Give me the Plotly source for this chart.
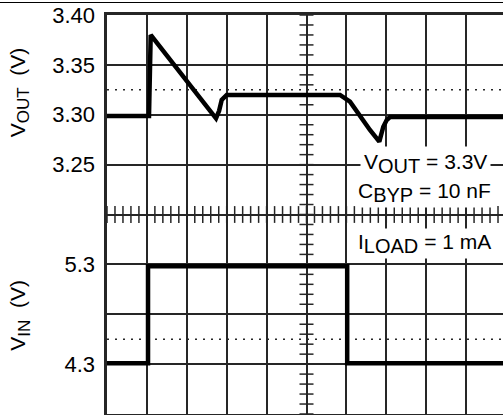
import plotly.graph_objects as go
import numpy as np

# ---------------- data ----------------
# time axis in scope divisions
t_vout = [0, 1.053, 1.095, 2.732, 2.81, 2.875, 3.0, 5.84, 6.09, 6.34, 6.59, 6.825, 6.925, 7.01, 7.093, 9.925]
v_out = [3.2987, 3.2987, 3.380, 3.2964, 3.304, 3.3148, 3.3198, 3.3198, 3.3131, 3.2980, 3.2847, 3.2730, 3.2880, 3.2947, 3.2977, 3.2977]

t_vin = [0, 1.028, 1.028, 6.02, 6.02, 9.925]
v_in = [4.31, 4.31, 5.28, 5.28, 4.31, 4.31]

vout_ticks = [3.25, 3.30, 3.35, 3.40]
vout_ticktext = ["3.25", "3.30", "3.35", "3.40"]
vin_ticks = [4.3, 5.3]
vin_ticktext = ["4.3", "5.3"]

dotted_levels = [1.5, 6.5]  # graticule divisions

FONT = "Liberation Sans, Arial, sans-serif"
GRID = "#262626"


def sub(s, size):
    return f"<sub><span style='font-size:{size}px'>{s}</span></sub>"


fig = go.Figure()

# centre graticule ticks
hx = np.arange(0, 9.95, 0.2)
vy = np.arange(0, 8.01, 0.2)
fig.add_trace(go.Scatter(x=hx, y=[4] * len(hx), mode="markers", xaxis="x", yaxis="y",
                         marker=dict(symbol="line-ns", size=12, line=dict(width=1.5, color=GRID)),
                         hoverinfo="skip"))
fig.add_trace(go.Scatter(x=[5] * len(vy), y=vy, mode="markers", xaxis="x", yaxis="y",
                         marker=dict(symbol="line-ew", size=10, line=dict(width=1.5, color=GRID)),
                         hoverinfo="skip"))

fig.add_trace(go.Scatter(x=t_vout, y=v_out, mode="lines", xaxis="x", yaxis="y2",
                         line=dict(color="black", width=4.5)))
fig.add_trace(go.Scatter(x=t_vin, y=v_in, mode="lines", xaxis="x", yaxis="y3",
                         line=dict(color="black", width=4.5)))

shapes = []
for lv in dotted_levels:
    shapes.append(dict(type="line", xref="x", yref="y", x0=0, x1=9.925, y0=lv, y1=lv,
                       line=dict(color=GRID, width=1.5, dash="2px,6px"), layer="between"))
# top border rule of the page (drawn in pixel units from the top of the plot area)
shapes.append(dict(type="line", xref="paper", yref="paper", ysizemode="pixel", yanchor=1,
                   x0=-0.28, x1=1.02, y0=12.5, y1=12.5,
                   line=dict(color="black", width=1.2), layer="above"))

annotations = [
    dict(text="V" + sub("OUT", 17) + "  (V)", xref="paper", yref="y", x=-0.221, y=6.46,
         xanchor="center", yanchor="middle",
         textangle=-90, showarrow=False, font=dict(family=FONT, size=21, color="black")),
    dict(text="V" + sub("IN", 17) + "  (V)", xref="paper", yref="y", x=-0.221, y=1.98,
         xanchor="center", yanchor="middle",
         textangle=-90, showarrow=False, font=dict(family=FONT, size=21, color="black")),
    dict(text="V" + sub("OUT", 20) + " = 3.3V", xref="x", yref="y", x=7.97, y=5.02, showarrow=False,
         xanchor="center", yanchor="middle",
         bgcolor="white", borderpad=3, font=dict(family=FONT, size=21, color="black")),
    dict(text="C" + sub("BYP", 20) + " = 10 nF", xref="x", yref="y", x=7.96, y=4.44, showarrow=False,
         xanchor="center", yanchor="middle",
         bgcolor="white", borderpad=1, font=dict(family=FONT, size=21, color="black")),
    dict(text="I" + sub("LOAD", 20) + " = 1 mA", xref="x", yref="y", x=7.95, y=3.41, showarrow=False,
         xanchor="center", yanchor="middle",
         bgcolor="white", borderpad=1, font=dict(family=FONT, size=21, color="black")),
]

fig.update_layout(
    width=503, height=415,
    margin=dict(l=107, r=0, t=15, b=1, pad=0, autoexpand=False),
    paper_bgcolor="white", plot_bgcolor="white",
    showlegend=False,
    xaxis=dict(range=[0, 9.925], dtick=1, tick0=0, showgrid=True, gridcolor=GRID, gridwidth=1.6,
               showticklabels=False, ticks="", zeroline=False, automargin=False,
               showline=True, mirror=True, linecolor=GRID, linewidth=2.5),
    yaxis=dict(range=[0, 8], dtick=1, tick0=0, showgrid=True, gridcolor=GRID, gridwidth=1.6,
               showticklabels=False, ticks="", zeroline=False, automargin=False,
               showline=True, linecolor=GRID, linewidth=2.5),
    yaxis2=dict(range=[3.0, 3.4], overlaying="y", side="left", showgrid=False, zeroline=False,
                tickvals=vout_ticks, ticktext=vout_ticktext, ticks="", ticklabelstandoff=11,
                automargin=False, tickfont=dict(family=FONT, size=22, color="black")),
    yaxis3=dict(range=[3.8, 7.8], overlaying="y", side="left", showgrid=False, zeroline=False,
                tickvals=vin_ticks, ticktext=vin_ticktext, ticks="", ticklabelstandoff=11,
                automargin=False, tickfont=dict(family=FONT, size=22, color="black")),
    shapes=shapes,
    annotations=annotations,
)

fig.write_html("out.html", config={"displayModeBar": False},
               post_script="document.body.style.margin='0';")
